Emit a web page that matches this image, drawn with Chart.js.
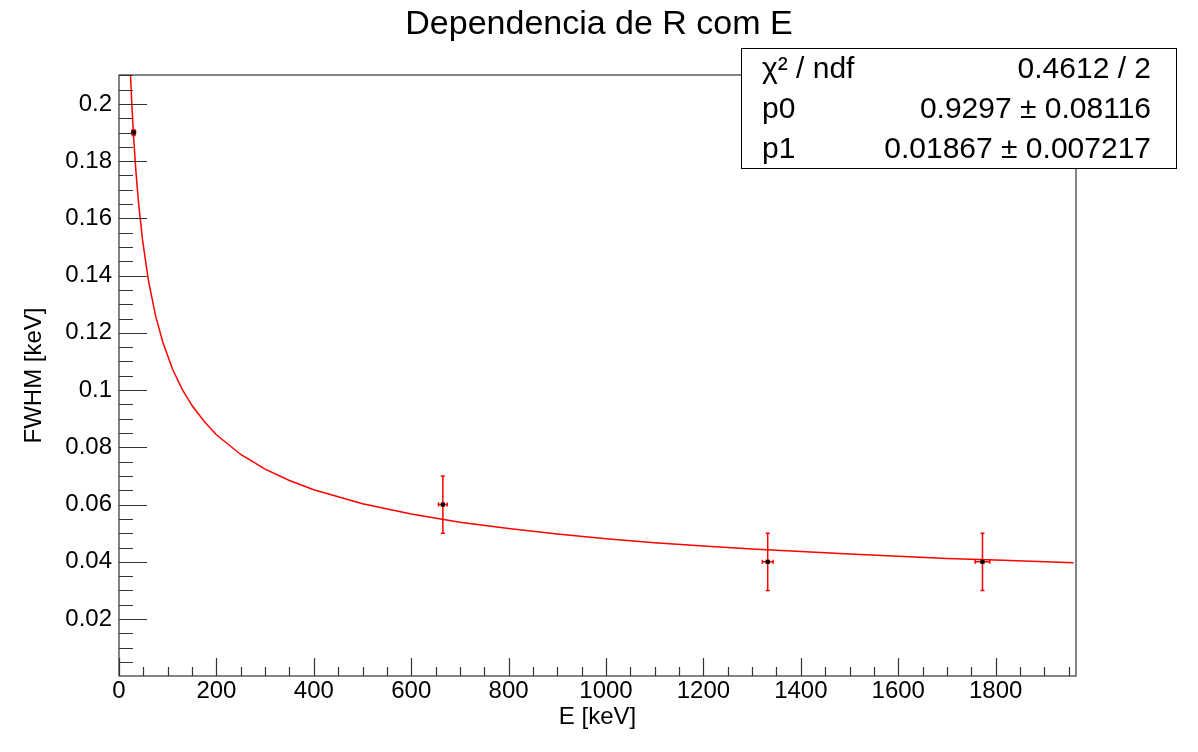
<html>
<head>
    <meta charset="utf-8">
    <title>Dependencia de R com E</title>
    <style>
        body { margin: 0; background: #fff; }
        canvas { display: block; }
    </style>
</head>
<body>
    <canvas id="myChart" width="1198" height="752"></canvas>
</body>
<script src="https://cdn.jsdelivr.net/npm/chart.js"></script>
<script>
    // measured points
    const energies = [30, 665, 1332, 1773]
    const fwhm = [0.190, 0.060, 0.040, 0.040]
    const energyErr = [4, 9, 11, 15]
    const fwhmErr = [0.001, 0.010, 0.010, 0.010]

    // fit curve
    const fitE = [23, 26, 30, 35, 40, 48, 60, 75, 90, 110, 130, 150, 175, 200, 250, 300, 350, 400, 500, 600, 700, 800, 900, 1000, 1100, 1200, 1300, 1400, 1500, 1600, 1700, 1800, 1960]
    const fitR = [0.2125, 0.201, 0.1884, 0.1758, 0.1657, 0.1529, 0.1387, 0.126, 0.1167, 0.1073, 0.1002, 0.0946, 0.089, 0.0844, 0.0775, 0.0724, 0.0684, 0.0652, 0.0603, 0.0567, 0.0538, 0.0516, 0.0497, 0.0481, 0.0467, 0.0455, 0.0445, 0.0436, 0.0427, 0.0419, 0.0412, 0.0406, 0.0397]

    const xTicks = [0, 200, 400, 600, 800, 1000, 1200, 1400, 1600, 1800]
    const xTickLabels = ['0', '200', '400', '600', '800', '1000', '1200', '1400', '1600', '1800']
    const yTicks = [0.02, 0.04, 0.06, 0.08, 0.1, 0.12, 0.14, 0.16, 0.18, 0.2]
    const yTickLabels = ['0.02', '0.04', '0.06', '0.08', '0.1', '0.12', '0.14', '0.16', '0.18', '0.2']

    const statLabels = ['χ² / ndf', 'p0', 'p1']
    const statValues = ['0.4612 / 2', '0.9297 ± 0.08116', '0.01867 ± 0.007217']

    const FONT = "'Liberation Sans', Arial, Helvetica, sans-serif"

    // frame, inner ticks, error bars and the fit box
    const rootStyle = {
        id: 'rootStyle',
        beforeDatasetsDraw(chart) {
            const ctx = chart.ctx
            const x = chart.scales.x, y = chart.scales.y
            ctx.save()
            ctx.strokeStyle = '#ff0000'
            ctx.lineWidth = 1.5
            energies.forEach((e, i) => {
                const px = x.getPixelForValue(e), py = y.getPixelForValue(fwhm[i])
                const x1 = x.getPixelForValue(e - energyErr[i]), x2 = x.getPixelForValue(e + energyErr[i])
                const y1 = y.getPixelForValue(fwhm[i] - fwhmErr[i]), y2 = y.getPixelForValue(fwhm[i] + fwhmErr[i])
                ctx.beginPath()
                ctx.moveTo(px, y1); ctx.lineTo(px, y2)
                ctx.moveTo(x1, py); ctx.lineTo(x2, py)
                // caps
                ctx.moveTo(px - 2, y1); ctx.lineTo(px + 2, y1)
                ctx.moveTo(px - 2, y2); ctx.lineTo(px + 2, y2)
                ctx.moveTo(x1, py - 2); ctx.lineTo(x1, py + 2)
                ctx.moveTo(x2, py - 2); ctx.lineTo(x2, py + 2)
                ctx.stroke()
            })
            ctx.restore()
        },
        afterDraw(chart) {
            const ctx = chart.ctx
            const a = chart.chartArea
            const x = chart.scales.x, y = chart.scales.y
            ctx.save()
            ctx.strokeStyle = '#333'
            ctx.lineWidth = 1.2
            ctx.strokeRect(a.left, a.top, a.right - a.left, a.bottom - a.top)

            ctx.beginPath()
            for (let v = 0; v <= x.max; v += 50) {
                const px = Math.round(x.getPixelForValue(v)) + 0.5
                const len = v % 200 === 0 ? 18 : 9
                ctx.moveTo(px, a.bottom); ctx.lineTo(px, a.bottom - len)
            }
            for (let k = 1; k * 0.005 <= y.max; k++) {
                const py = Math.round(y.getPixelForValue(k * 0.005)) + 0.5
                const len = k % 4 === 0 ? 28 : 14
                ctx.moveTo(a.left, py); ctx.lineTo(a.left + len, py)
            }
            ctx.stroke()

            // fit box
            const bx = 741.5, by = 48.5, bw = 435, bh = 120
            ctx.fillStyle = '#fff'
            ctx.fillRect(bx, by, bw, bh)
            ctx.strokeStyle = '#000'
            ctx.lineWidth = 1
            ctx.strokeRect(bx, by, bw, bh)
            ctx.fillStyle = '#000'
            ctx.font = '30px ' + FONT
            ctx.textBaseline = 'middle'
            statLabels.forEach((t, i) => {
                const ty = by + bh / 3 * (i + 0.5) + 1
                ctx.textAlign = 'left'
                ctx.fillText(t, 762, ty)
                ctx.textAlign = 'right'
                ctx.fillText(statValues[i], 1151, ty)
            })
            ctx.restore()
        }
    }

    const ctx = document.getElementById('myChart').getContext('2d')
    new Chart(ctx, {
        type: 'scatter',
        data: {
            datasets: [{
                label: 'fit',
                data: fitE.map((e, i) => ({ x: e, y: fitR[i] })),
                showLine: true,
                borderColor: '#ff0000',
                borderWidth: 1.5,
                pointRadius: 0,
                tension: 0,
                order: 2
            }, {
                label: 'FWHM',
                data: energies.map((e, i) => ({ x: e, y: fwhm[i] })),
                showLine: false,
                pointStyle: 'rect',
                pointRadius: 3,
                pointBorderWidth: 0,
                pointBackgroundColor: '#000',
                order: 1
            }]
        },
        options: {
            responsive: false,
            animation: false,
            devicePixelRatio: 1,
            layout: { padding: 0 },
            plugins: {
                legend: { display: false },
                tooltip: { enabled: false },
                title: {
                    display: true,
                    text: 'Dependencia de R com E',
                    color: '#000',
                    font: { family: FONT, size: 34, weight: 'normal' },
                    padding: { top: 4, bottom: 30.2 }
                }
            },
            scales: {
                x: {
                    type: 'linear',
                    min: 0,
                    max: 1965,
                    afterBuildTicks: s => { s.ticks = xTicks.map(v => ({ value: v })) },
                    afterFit: s => { s.height = 76 },
                    ticks: {
                        callback: (v, i) => xTickLabels[i],
                        color: '#000',
                        font: { family: FONT, size: 24 },
                        padding: 1,
                        maxRotation: 0,
                        autoSkip: false
                    },
                    grid: { display: false, drawTicks: false },
                    border: { display: false },
                    title: {
                        display: true,
                        text: 'E [keV]',
                        color: '#000',
                        font: { family: FONT, size: 24 },
                        padding: { top: 0, bottom: 20 }
                    }
                },
                y: {
                    type: 'linear',
                    min: 0.0001,
                    max: 0.2101,
                    afterBuildTicks: s => { s.ticks = yTicks.map(v => ({ value: v })) },
                    afterFit: s => { s.width = 119 },
                    ticks: {
                        callback: (v, i) => yTickLabels[i],
                        color: '#000',
                        font: { family: FONT, size: 24 },
                        padding: 7,
                        autoSkip: false
                    },
                    grid: { display: false, drawTicks: false },
                    border: { display: false },
                    title: {
                        display: true,
                        text: 'FWHM [keV]',
                        color: '#000',
                        font: { family: FONT, size: 24 },
                        padding: { top: 20, bottom: 0 }
                    }
                },
                // empty right margin, keeps the title centred on the page
                yRight: {
                    position: 'right',
                    display: true,
                    afterFit: s => { s.width = 122 },
                    ticks: { display: false },
                    grid: { display: false, drawTicks: false },
                    border: { display: false }
                }
            }
        },
        plugins: [rootStyle]
    })
</script>
</html>
